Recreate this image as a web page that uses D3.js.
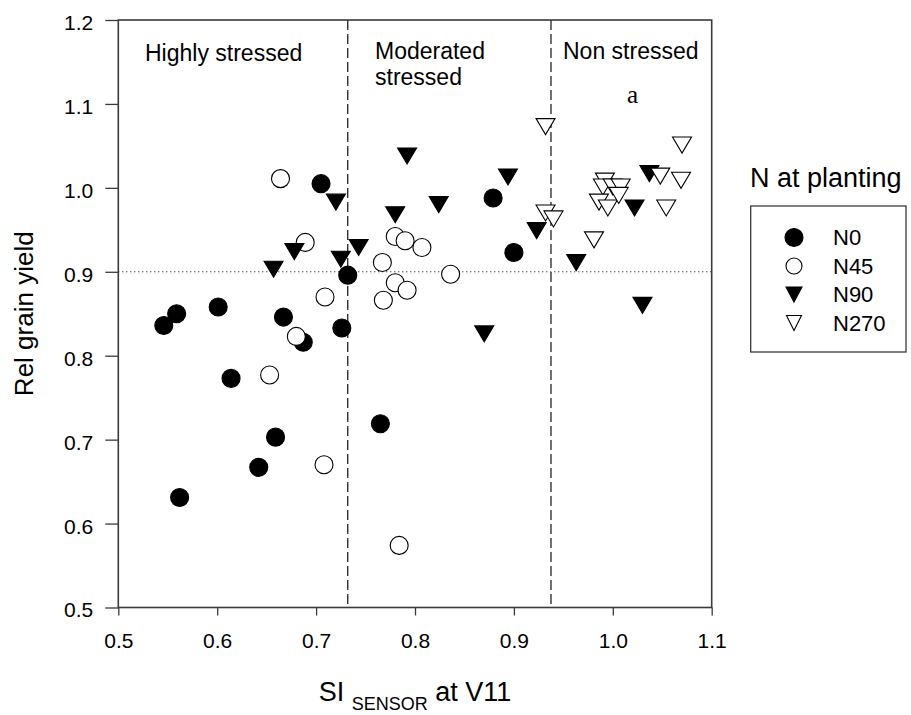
<!DOCTYPE html>
<html>
<head>
<meta charset="utf-8">
<script src="https://cdn.jsdelivr.net/npm/d3@7"></script>
<style>
  html, body { margin: 0; padding: 0; background: #fff; }
  svg { display: block; font-family: "Liberation Sans", Arial, sans-serif; }
</style>
</head>
<body>
<svg id="chart" width="911" height="715"></svg>
<script>
// ---- data ----
const seriesNames = ["N0", "N45", "N90", "N270"];
const n0X = [0.705, 0.732, 0.879, 0.900, 0.546, 0.559, 0.601, 0.667, 0.687, 0.726, 0.614, 0.659, 0.642, 0.562, 0.765];
const n0Y = [1.005, 0.896, 0.988, 0.923, 0.836, 0.850, 0.858, 0.846, 0.816, 0.833, 0.773, 0.703, 0.667, 0.631, 0.719];
const n45X = [0.664, 0.689, 0.709, 0.767, 0.780, 0.790, 0.807, 0.836, 0.780, 0.792, 0.768, 0.680, 0.653, 0.708, 0.784];
const n45Y = [1.011, 0.935, 0.870, 0.911, 0.942, 0.937, 0.929, 0.897, 0.887, 0.878, 0.866, 0.823, 0.777, 0.670, 0.574];
const n90X = [0.720, 0.678, 0.657, 0.725, 0.743, 0.792, 0.894, 0.824, 0.780, 0.923, 0.963, 1.037, 1.022, 1.030, 0.870];
const n90Y = [0.983, 0.924, 0.903, 0.915, 0.929, 1.038, 1.013, 0.980, 0.968, 0.949, 0.911, 1.017, 0.976, 0.860, 0.826];
const n270X = [0.932, 0.932, 0.940, 0.981, 1.070, 1.048, 1.069, 0.992, 0.990, 1.000, 1.008, 0.986, 0.995, 1.006, 1.054];
const n270Y = [1.073, 0.970, 0.963, 0.938, 1.051, 1.014, 1.009, 1.008, 1.001, 1.001, 1.001, 0.983, 0.976, 0.991, 0.976];
const xTicks = [0.5, 0.6, 0.7, 0.8, 0.9, 1.0, 1.1];
const yTicks = [0.5, 0.6, 0.7, 0.8, 0.9, 1.0, 1.1, 1.2];
const zoneBreaks = [0.732, 0.9375];
const refLineY = 0.9;

// ---- scales ----
const svg = d3.select("#chart");
const x = d3.scaleLinear().domain([0.5, 1.1]).range([118.3, 711.7]);
const y = d3.scaleLinear().domain([0.5, 1.2]).range([607.5, 20]);

const axisColor = "#3a3a3a";

// reference lines
svg.append("line")
  .attr("x1", x(0.5)).attr("x2", x(1.1))
  .attr("y1", y(refLineY)).attr("y2", y(refLineY))
  .attr("stroke", "#000").attr("stroke-width", 1)
  .attr("stroke-dasharray", "1,3");

svg.selectAll("line.zone").data(zoneBreaks).enter().append("line")
  .attr("class", "zone")
  .attr("x1", d => x(d)).attr("x2", d => x(d))
  .attr("y1", y(1.2)).attr("y2", y(0.5))
  .attr("stroke", "#111").attr("stroke-width", 1.2)
  .attr("stroke-dasharray", "10,4");

// axes
const xAxis = d3.axisBottom(x).tickValues(xTicks).tickFormat(d3.format(".1f"))
  .tickSize(8).tickSizeOuter(0).tickPadding(23);
const yAxis = d3.axisLeft(y).tickValues(yTicks).tickFormat(d3.format(".1f"))
  .tickSize(13).tickSizeOuter(0).tickPadding(12);

const gx = svg.append("g").attr("transform", `translate(0,${y(0.5)})`).call(xAxis);
const gy = svg.append("g").attr("transform", `translate(${x(0.5)},0)`).call(yAxis);
[gx, gy].forEach(g => {
  g.select(".domain").remove();
  g.selectAll(".tick line").attr("stroke", axisColor).attr("stroke-width", 1.3);
  g.selectAll(".tick text").attr("fill", "#000")
    .style("font-family", "'Liberation Sans', Arial, sans-serif").style("font-size", "21px");
});
gy.selectAll(".tick text").attr("dy", "0.45em");
gx.selectAll(".tick text").attr("dy", "0.43em");

// frame
svg.append("rect")
  .attr("x", x(0.5)).attr("y", y(1.2))
  .attr("width", x(1.1) - x(0.5)).attr("height", y(0.5) - y(1.2))
  .attr("fill", "none").attr("stroke", axisColor).attr("stroke-width", 1.6);

// symbols
const triPath = (w, h) => `M${-w/2},${-h/2}L${w/2},${-h/2}L0,${h/2}Z`;
const series = [
  {name: seriesNames[0], xs: n0X, ys: n0Y, shape: "circle", fill: "#000"},
  {name: seriesNames[1], xs: n45X, ys: n45Y, shape: "circle", fill: "#fff"},
  {name: seriesNames[2], xs: n90X, ys: n90Y, shape: "tri", fill: "#000"},
  {name: seriesNames[3], xs: n270X, ys: n270Y, shape: "tri", fill: "#fff"}
];

series.forEach(s => {
  const pts = s.xs.map((v, i) => [v, s.ys[i]]);
  const g = svg.append("g");
  if (s.shape === "circle") {
    g.selectAll("circle").data(pts).enter().append("circle")
      .attr("cx", d => x(d[0])).attr("cy", d => y(d[1])).attr("r", 9)
      .attr("fill", s.fill).attr("stroke", "#000").attr("stroke-width", 1.1);
  } else {
    g.selectAll("path").data(pts).enter().append("path")
      .attr("d", triPath(19, 16))
      .attr("transform", d => `translate(${x(d[0])},${y(d[1])})`)
      .attr("fill", s.fill).attr("stroke", "#000").attr("stroke-width", 1.1)
      .attr("stroke-linejoin", "miter");
  }
});

// zone labels
const lab = (t, px, py, size, fam) => svg.append("text")
  .attr("x", px).attr("y", py).text(t)
  .style("font-size", size + "px")
  .style("font-family", fam || "'Liberation Sans', Arial, sans-serif")
  .attr("fill", "#000");
lab("Highly stressed", 145, 61, 23);
lab("Moderated", 375, 59, 23);
lab("stressed", 375, 85, 23);
lab("Non stressed", 563, 59, 23);
lab("a", 627, 103, 25, "'Liberation Serif', 'Times New Roman', serif");

// axis titles
svg.append("text")
  .attr("transform", `translate(33,${(y(0.5) + y(1.2)) / 2}) rotate(-90)`)
  .attr("text-anchor", "middle")
  .style("font-size", "26px").attr("fill", "#000")
  .text("Rel grain yield");

const xt = svg.append("text")
  .attr("x", (x(0.5) + x(1.1)) / 2).attr("y", 701)
  .attr("text-anchor", "middle")
  .style("font-size", "27px").attr("fill", "#000");
xt.append("tspan").text("SI ");
xt.append("tspan").attr("dy", 9).style("font-size", "18px").text("SENSOR");
xt.append("tspan").attr("dy", -9).text(" at V11");

// legend
svg.append("text").attr("x", 750).attr("y", 187)
  .style("font-size", "27px").attr("fill", "#000").text("N at planting");
svg.append("rect").attr("x", 750.7).attr("y", 206).attr("width", 155.3).attr("height", 146)
  .attr("fill", "#fff").attr("stroke", axisColor).attr("stroke-width", 1.3);

const legRowY = d3.scalePoint().domain(seriesNames).range([237.5, 323]);
series.forEach(s => {
  const cy = legRowY(s.name);
  if (s.shape === "circle") {
    svg.append("circle").attr("cx", 794).attr("cy", cy).attr("r", s.fill === "#000" ? 9 : 8)
      .attr("fill", s.fill).attr("stroke", "#000").attr("stroke-width", 1.1);
  } else {
    svg.append("path").attr("d", triPath(s.fill === "#000" ? 16 : 15, 15))
      .attr("transform", `translate(794,${cy})`)
      .attr("fill", s.fill).attr("stroke", "#000").attr("stroke-width", 1.1);
  }
  svg.append("text").attr("x", 833).attr("y", cy + 7.5)
    .style("font-size", "22px").attr("fill", "#000").text(s.name);
});
</script>
</body>
</html>
